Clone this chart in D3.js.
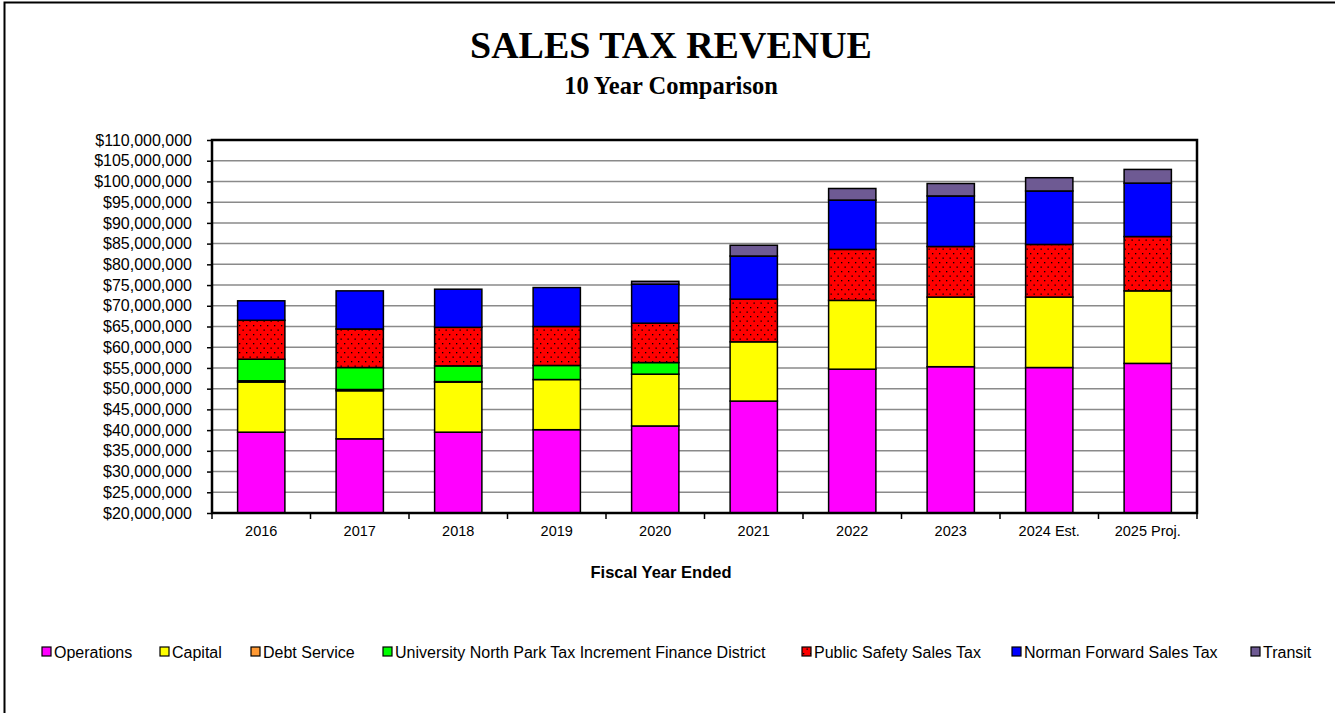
<!DOCTYPE html>
<html>
<head>
<meta charset="utf-8">
<script src="https://cdn.jsdelivr.net/npm/d3@7"></script>
<style>
  html, body { margin: 0; padding: 0; background: #fff; }
  svg { display: block; }
  text { font-family: "Liberation Sans", Arial, sans-serif; fill: #000; }
  .serif { font-family: "Liberation Serif", "Times New Roman", serif; font-weight: bold; }
</style>
</head>
<body>
<div id="chart"></div>
<script>
// Fiscal years and revenue by source (dollars)
const years = ['2016', '2017', '2018', '2019', '2020', '2021', '2022', '2023', '2024 Est.', '2025 Proj.'];
const operations = [39500000, 37900000, 39500000, 40100000, 41000000, 47000000, 54700000, 55300000, 55100000, 56100000];
const capital = [12100000, 11600000, 12100000, 12100000, 12500000, 14300000, 16600000, 16800000, 17000000, 17500000];
const debtService = [300000, 300000, 100000, 0, 0, 0, 0, 0, 0, 0];
const universityNorthPark = [5200000, 5300000, 3800000, 3400000, 2800000, 0, 0, 0, 0, 0];
const publicSafety = [9400000, 9300000, 9300000, 9400000, 9500000, 10300000, 12300000, 12200000, 12700000, 13100000];
const normanForward = [4700000, 9200000, 9200000, 9400000, 9400000, 10400000, 11900000, 12200000, 12900000, 12900000];
const transit = [0, 0, 0, 0, 700000, 2600000, 2800000, 3000000, 3200000, 3300000];

const series = [
    { key: 'Operations', values: operations, color: '#ff00ff' },
    { key: 'Capital', values: capital, color: '#ffff00' },
    { key: 'Debt Service', values: debtService, color: '#ff9933' },
    { key: 'University North Park Tax Increment Finance District', values: universityNorthPark, color: '#00ff00' },
    { key: 'Public Safety Sales Tax', values: publicSafety, color: 'url(#dots)' },
    { key: 'Norman Forward Sales Tax', values: normanForward, color: '#0000ff' },
    { key: 'Transit', values: transit, color: '#6e5a93' }
];

const yTicks = d3.range(20000000, 110000001, 5000000);

const width = 1335, height = 713;
const margin = { top: 140, right: 138, bottom: 200, left: 212 };

const svg = d3.select('#chart').append('svg')
    .attr('width', width)
    .attr('height', height);

// red fill with black dots
const pat = svg.append('defs').append('pattern')
    .attr('id', 'dots')
    .attr('patternUnits', 'userSpaceOnUse')
    .attr('width', 7)
    .attr('height', 9);
pat.append('rect').attr('width', 7).attr('height', 9).attr('fill', '#ff0000');
pat.append('rect').attr('x', 1).attr('y', 1).attr('width', 1.3).attr('height', 1.3).attr('fill', '#000');
pat.append('rect').attr('x', 4.5).attr('y', 5.5).attr('width', 1.3).attr('height', 1.3).attr('fill', '#000');

// page frame (top and left edges)
svg.append('path')
    .attr('d', `M4.5,${height} V2.5 H${width}`)
    .attr('fill', 'none')
    .attr('stroke', '#000')
    .attr('stroke-width', 2);

// Titles
svg.append('text').attr('class', 'serif')
    .attr('x', 671).attr('y', 58)
    .attr('text-anchor', 'middle')
    .attr('font-size', '38px')
    .text('SALES TAX REVENUE');
svg.append('text').attr('class', 'serif')
    .attr('x', 671).attr('y', 94)
    .attr('text-anchor', 'middle')
    .attr('font-size', '24.5px')
    .text('10 Year Comparison');

const x0 = margin.left, x1 = width - margin.right;
const y1 = margin.top;

const x = d3.scaleBand()
    .domain(years)
    .range([x0, x1])
    .paddingInner(0.52)
    .paddingOuter(0.26);

const y = d3.scaleLinear()
    .domain([20000000, 110000000])
    .range([513, y1])
    .clamp(true);

// gridlines
svg.append('g')
    .selectAll('line')
    .data(yTicks.slice(1))
    .join('line')
    .attr('x1', x0).attr('x2', x1)
    .attr('y1', d => y(d)).attr('y2', d => y(d))
    .attr('stroke', '#8a8a8a')
    .attr('stroke-width', 1.5);

// stacked bars
const table = years.map((yr, i) => {
    const row = { year: yr };
    series.forEach(s => { row[s.key] = s.values[i]; });
    return row;
});
const stacked = d3.stack().keys(series.map(s => s.key))(table);

svg.append('g')
    .selectAll('g')
    .data(stacked)
    .join('g')
    .attr('fill', (d, i) => series[i].color)
    .selectAll('rect')
    .data(d => d.filter(p => p[1] > p[0]))
    .join('rect')
    .attr('x', d => x(d.data.year))
    .attr('width', x.bandwidth())
    .attr('y', d => y(d[1]))
    .attr('height', d => y(d[0]) - y(d[1]))
    .attr('stroke', '#000')
    .attr('stroke-width', 1.5);

// plot frame
svg.append('rect')
    .attr('x', x0).attr('y', y1)
    .attr('width', x1 - x0).attr('height', 513 - y1)
    .attr('fill', 'none')
    .attr('stroke', '#000')
    .attr('stroke-width', 2.5);

// y axis
const yAxis = svg.append('g')
    .attr('transform', `translate(${x0},0)`)
    .call(d3.axisLeft(y)
        .tickValues(yTicks)
        .tickSize(5)
        .tickPadding(15)
        .tickFormat(d => '$' + d3.format(',')(d)));
yAxis.select('.domain').remove();
yAxis.selectAll('line').attr('stroke', '#000').attr('stroke-width', 1.5);
yAxis.selectAll('text')
    .attr('font-size', '16px')
    .attr('font-family', '"Liberation Sans", Arial, sans-serif')
    .attr('fill', '#000');

// x axis: ticks at category boundaries, labels centred
const step = x.step();
svg.append('g')
    .selectAll('line')
    .data(d3.range(years.length + 1))
    .join('line')
    .attr('x1', i => x0 + i * step).attr('x2', i => x0 + i * step)
    .attr('y1', 513).attr('y2', 519)
    .attr('stroke', '#000')
    .attr('stroke-width', 1.5);

svg.append('g')
    .selectAll('text')
    .data(years)
    .join('text')
    .attr('x', d => x(d) + x.bandwidth() / 2)
    .attr('y', 536)
    .attr('text-anchor', 'middle')
    .attr('font-size', '14.5px')
    .text(d => d);

svg.append('text')
    .attr('x', 661).attr('y', 578)
    .attr('text-anchor', 'middle')
    .attr('font-size', '16.5px')
    .attr('font-weight', 'bold')
    .text('Fiscal Year Ended');

// legend, item positions as laid out in the original
const legendX = [42, 160, 251, 383, 802, 1012, 1251];
const legend = svg.append('g').attr('transform', 'translate(0,652)');
series.forEach((s, i) => {
    const item = legend.append('g').attr('transform', `translate(${legendX[i]},0)`);
    item.append('rect')
        .attr('x', 0).attr('y', -5)
        .attr('width', 9).attr('height', 9)
        .attr('fill', s.color)
        .attr('stroke', '#000')
        .attr('stroke-width', 1.2);
    item.append('text')
        .attr('x', 12).attr('y', 5.5)
        .attr('font-size', '16px')
        .text(s.key);
});
</script>
</body>
</html>
